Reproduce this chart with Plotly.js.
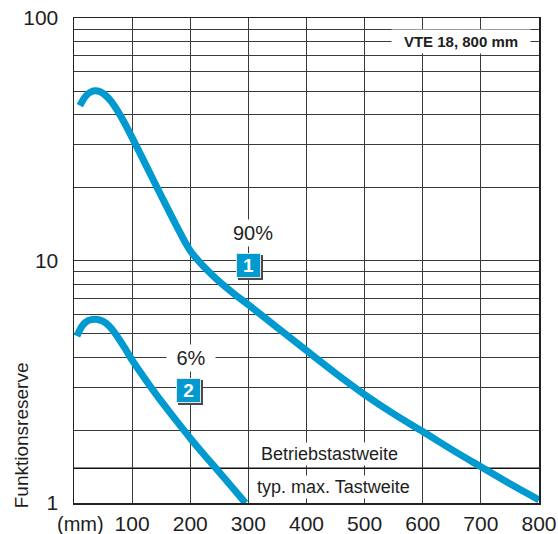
<!DOCTYPE html>
<html>
<head>
<meta charset="utf-8">
<script src="https://cdn.plot.ly/plotly-3.0.1.min.js"></script>
<style>html,body{margin:0;padding:0;background:#fff;}#chart{width:558px;height:534px;}</style>
</head>
<body>
<div id="chart"></div>
<script>
// ---- data ----
const distance90 = [10, 20, 28, 36, 45, 55, 65, 75, 87, 100, 125, 150, 175, 200, 225, 250, 275, 300, 350, 400, 450, 500, 550, 600, 650, 700, 750, 800];
const reserve90  = [43.5, 47.6, 49.4, 50.1, 49.6, 47.8, 45.0, 41.4, 36.9, 32.1, 24.4, 18.5, 14.1, 10.98, 9.34, 8.18, 7.30, 6.57, 5.28, 4.25, 3.43, 2.80, 2.33, 1.97, 1.66, 1.41, 1.20, 1.03];
const distance6  = [5, 15, 25, 36, 45, 55, 65, 75, 87, 100, 125, 150, 175, 200, 225, 250, 275, 295];
const reserve6   = [4.88, 5.41, 5.66, 5.73, 5.68, 5.52, 5.22, 4.84, 4.37, 3.88, 3.18, 2.63, 2.20, 1.85, 1.57, 1.34, 1.14, 1.00];
const operatingThreshold = 1.39;
const xTickVals = [100, 200, 300, 400, 500, 600, 700, 800];
const xTickText = ['100', '200', '300', '400', '500', '600', '700', '800'];
const yTickVals = [1,2,3,4,5,6,7,8,9,10,20,30,40,50,60,70,80,90,100];
const yTickText = yTickVals.map(v => (v === 1 || v === 10 || v === 100) ? String(v) : '');
const xRange = [0, 800];

const BLUE = '#0099d0';
const FONT = 'Liberation Sans, Arial, sans-serif';
const TXT = '#1e1e1e';

const traces = [
  {x: xRange, y: [operatingThreshold, operatingThreshold], mode: 'lines',
   line: {color: '#111', width: 1.5}, hoverinfo: 'skip', showlegend: false},
  {x: distance90, y: reserve90, mode: 'lines', line: {color: BLUE, width: 7, shape: 'spline', smoothing: 1, simplify: false}, showlegend: false},
  {x: distance6, y: reserve6, mode: 'lines', line: {color: BLUE, width: 7, shape: 'spline', smoothing: 1, simplify: false}, showlegend: false}
];

function badge(label, x, ylog) {
  return [
    {x: x, y: ylog, xref: 'x', yref: 'y', text: '', showarrow: false, width: 23, height: 23,
     bgcolor: '#4a4a4a', borderpad: 0, borderwidth: 1, bordercolor: '#4a4a4a', xshift: 2, yshift: -2},
    {x: x, y: ylog, xref: 'x', yref: 'y', text: '<b>' + label + '</b>', showarrow: false, width: 23, height: 23,
     bgcolor: BLUE, borderpad: 0, borderwidth: 1, bordercolor: '#e6e6e6', font: {family: FONT, size: 19, color: '#fff'}}
  ];
}

const annotations = [
  {x: 666, y: 1.903, xref: 'x', yref: 'y', text: 'VTE 18, 800 mm', showarrow: false, bgcolor: '#fff', borderpad: 3,
   width: 132, font: {family: FONT, size: 15, color: TXT, weight: 'bold'}},
  {x: 307.6, y: 1.113, xref: 'x', yref: 'y', text: '90%', showarrow: false, bgcolor: '#fff', borderpad: 2,
   font: {family: FONT, size: 20, color: TXT}},
  {x: 200.9, y: 0.598, xref: 'x', yref: 'y', text: '6%', showarrow: false, bgcolor: '#fff', borderpad: 2, width: 44,
   font: {family: FONT, size: 20, color: TXT}},
  ...badge('1', 301, 0.9786),
  ...badge('2', 196.2, 0.465),
  {x: 440.2, y: 0.202, xref: 'x', yref: 'y', text: 'Betriebstastweite', showarrow: false, bgcolor: '#fff', borderpad: 1,
   font: {family: FONT, size: 18, color: TXT}},
  {x: 447.2, y: 0.0643, xref: 'x', yref: 'y', text: 'typ. max. Tastweite', showarrow: false, bgcolor: '#fff', borderpad: 1,
   font: {family: FONT, size: 18, color: TXT}},
  {x: -0.1125, y: 0.139, xref: 'paper', yref: 'paper', xanchor: 'center', yanchor: 'middle',
   text: 'Funktionsreserve', textangle: -90, showarrow: false,
   font: {family: FONT, size: 19, color: TXT}},
  {x: 0.015, y: -0.043, xref: 'paper', yref: 'paper', xanchor: 'center', yanchor: 'middle',
   text: '(mm)', showarrow: false,
   font: {family: FONT, size: 20, color: TXT}}
];

const layout = {
  width: 558, height: 534,
  margin: {l: 74, r: 19, t: 18, b: 31, pad: 0},
  paper_bgcolor: '#fff', plot_bgcolor: '#fff',
  font: {family: FONT, color: TXT},
  showlegend: false,
  xaxis: {
    range: xRange, tickvals: xTickVals, ticktext: xTickText, ticks: '', ticklabelstandoff: 1,
    showgrid: true, gridcolor: '#3a3a3a', gridwidth: 1, zeroline: false,
    showline: true, mirror: true, linecolor: '#222', linewidth: 1.5,
    tickfont: {family: FONT, size: 21, color: TXT}, fixedrange: true
  },
  yaxis: {
    type: 'log', range: [0, 2], tickvals: yTickVals, ticktext: yTickText, ticks: '', ticklabelstandoff: 10,
    showgrid: true, gridcolor: '#3a3a3a', gridwidth: 1, zeroline: false,
    showline: true, mirror: true, linecolor: '#222', linewidth: 1.5,
    tickfont: {family: FONT, size: 21, color: TXT}, fixedrange: true
  },
  annotations: annotations
};

Plotly.newPlot('chart', traces, layout, {displayModeBar: false, staticPlot: true});
</script>
</body>
</html>
